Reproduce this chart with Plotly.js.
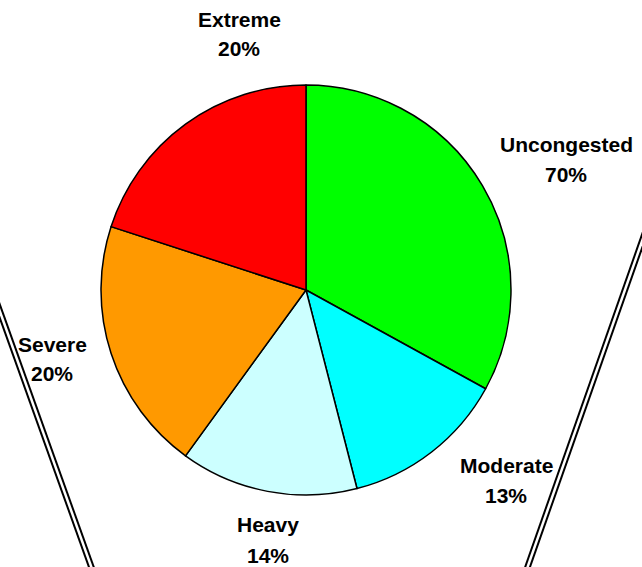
<!DOCTYPE html>
<html>
<head>
<meta charset="utf-8">
<script src="https://cdn.plot.ly/plotly-3.0.1.min.js"></script>
<style>html,body{margin:0;padding:0;background:#fff;}</style>
</head>
<body>
<div id="chart" style="width:642px;height:567px;"></div>
<script>
// Data
var categories = ["Uncongested", "Moderate", "Heavy", "Severe", "Extreme"];
var sliceValues = [33, 13, 14, 20, 20];          // slice sizes as drawn
var shownPercents = ["70%", "13%", "14%", "20%", "20%"]; // label text as printed
var sliceColors = ["#00FF00", "#00FFFF", "#CCFFFF", "#FF9900", "#FF0000"];

// label positions (pixels): [x centre, name line y, percent line y]
var labelPos = [[566, 145, 174], [506, 465, 495], [268, 524, 555], [52, 344, 373], [239, 19, 49]];

var W = 642, H = 567;
function px(x) { return x / W; }
function py(y) { return 1 - y / H; }

var trace = {
  type: "pie",
  labels: categories,
  values: sliceValues,
  sort: false,
  direction: "clockwise",
  rotation: 0,
  textinfo: "none",
  hoverinfo: "label+percent",
  marker: { colors: sliceColors, line: { color: "#000000", width: 1.5 } },
  domain: { x: [px(101), px(511)], y: [py(495), py(85)] }
};

var font = { family: "Liberation Sans, Arial, sans-serif", size: 21, color: "#000" };
var annotations = [];
categories.forEach(function (c, i) {
  annotations.push({
    xref: "paper", yref: "paper",
    x: px(labelPos[i][0]), y: py(labelPos[i][1]),
    xanchor: "center", yanchor: "middle", showarrow: false,
    text: "<b>" + c + "</b>", font: font
  });
  annotations.push({
    xref: "paper", yref: "paper",
    x: px(labelPos[i][0]), y: py(labelPos[i][2]),
    xanchor: "center", yanchor: "middle", showarrow: false,
    text: "<b>" + shownPercents[i] + "</b>", font: font
  });
});

function dbl(x0, y0, x1, y1) {
  return [
    { type: "line", xref: "paper", yref: "paper", x0: px(x0), y0: py(y0), x1: px(x1), y1: py(y1),
      line: { color: "#000", width: 6.5 } },
    { type: "line", xref: "paper", yref: "paper", x0: px(x0), y0: py(y0), x1: px(x1), y1: py(y1),
      line: { color: "#fff", width: 2.5 } }
  ];
}
var shapes = [].concat(dbl(-6, 295, 96, 580), dbl(646, 230, 523, 580));

var layout = {
  width: W, height: H,
  margin: { l: 0, r: 0, t: 0, b: 0 },
  paper_bgcolor: "#fff",
  showlegend: false,
  annotations: annotations,
  shapes: shapes
};

Plotly.newPlot("chart", [trace], layout, { displayModeBar: false, staticPlot: true });
</script>
</body>
</html>
